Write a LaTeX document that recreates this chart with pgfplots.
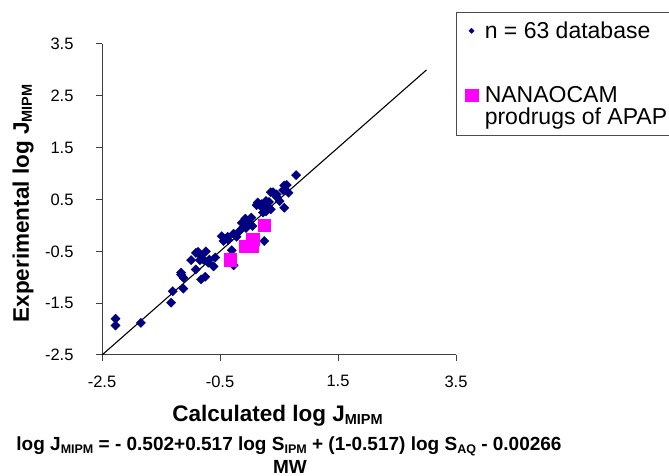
\documentclass[border=0pt]{standalone}
\usepackage{fontspec}
\setmainfont{Liberation Sans}
\usepackage{pgfplots}
\pgfplotsset{compat=1.18}
\definecolor{navyd}{RGB}{0,0,128}
\definecolor{pinkm}{RGB}{255,0,255}
\newcommand{\subA}[1]{\raisebox{-3pt}{\fontsize{14.5}{14.5}\selectfont #1}}
\newcommand{\subE}[1]{\raisebox{-2.5pt}{\fontsize{12.5}{12.5}\selectfont #1}}
\begin{document}
\begin{tikzpicture}[x=1pt,y=1pt]
\useasboundingbox (0,0) rectangle (669,476);
\begin{axis}[
  at={(102pt,121pt)}, anchor=south west,
  width=354pt, height=311pt, scale only axis,
  xmin=-2.5, xmax=3.5, ymin=-2.5, ymax=3.5,
  axis x line*=bottom, axis y line*=left,
  axis line style={-, black!75, line width=1pt},
  xtick={-2.5,-0.5,1.5,3.5},
  ytick={-2.5,-1.5,-0.5,0.5,1.5,2.5,3.5},
  xtick pos=bottom, ytick pos=left,
  xtick align=outside, ytick align=outside,
  major tick length=6pt,
  tick style={draw=black!75, line width=1pt},
  /pgf/number format/assume math mode=true,
  /pgf/number format/fixed,
  /pgf/number format/fixed zerofill,
  /pgf/number format/precision=1,
  ticklabel style={font=\fontsize{16.5}{16.5}\selectfont, text=black},
  yticklabel style={xshift=-19pt},
  xticklabel style={yshift=-11pt},
  legend style={at={(axis description cs:0.999,1.104)}, anchor=north west,
    draw=black!70, line width=0.8pt, inner xsep=7pt, inner ysep=8pt,
    row sep=0pt, column sep=5pt,
    font=\fontsize{23}{23}\selectfont,
    cells={anchor=west, text height=16pt, text depth=5pt, inner ysep=0pt, inner xsep=2pt}},
]
\addplot[black, line width=1.1pt, forget plot] coordinates {(-2.5,-2.5) (3.0,3.0)};
\addplot[only marks, mark=square*, mark size=3.3pt,
  mark options={rotate=45, fill=navyd, draw=navyd, line width=0.3pt},
  legend image post style={mark size=1.9pt}]
 coordinates {
(-2.27,-1.80)(-2.27,-1.93)(-1.84,-1.88)(-1.33,-1.49)(-1.30,-1.27)(-1.12,-1.22)
(-1.16,-0.91)(-1.12,-1.01)(-1.16,-0.95)(-0.99,-0.67)(-0.91,-0.85)(-0.91,-0.53)
(-0.82,-0.59)(-0.74,-0.50)(-0.82,-1.04)(-0.75,-0.99)(-0.78,-0.66)(-0.68,-0.66)
(-0.70,-0.72)(-0.61,-0.79)(-0.58,-0.62)(-0.87,-0.51)(-0.84,-0.67)(-0.47,-0.21)
(-0.44,-0.30)(-0.41,-0.26)(-0.37,-0.22)(-0.36,-0.28)(-0.27,-0.16)(-0.22,-0.22)
(-0.27,-0.77)(-0.30,-0.48)(-0.17,-0.11)(-0.13,0.05)(-0.07,0.13)(-0.06,-0.05)
(-0.10,-0.03)(-0.03,0.08)(0.03,0.15)(0.05,-0.01)(-0.02,0.04)(0.14,0.44)
(0.19,0.37)(0.20,0.41)(0.12,0.39)(0.28,0.47)(0.25,-0.30)(0.28,0.27)
(0.23,0.25)(0.36,0.31)(0.31,0.35)(0.33,0.45)(0.36,0.64)(0.40,0.64)
(0.46,0.60)(0.46,0.55)(0.51,0.47)(0.59,0.34)(0.59,0.77)(0.63,0.78)
(0.57,0.68)(0.66,0.63)(0.79,0.97)
};
\addlegendentry{n = 63 database}
\addlegendimage{empty legend}\addlegendentry{}
\addlegendimage{empty legend}\addlegendentry{}
\addplot[only marks, mark=square*, mark size=6.2pt,
  mark options={fill=pinkm, draw=pinkm, line width=0.2pt}]
 coordinates {(-0.33,-0.66)(-0.07,-0.40)(0.04,-0.40)(0.05,-0.26)(0.25,0.01)};
\addlegendentry{NANAOCAM}
\addlegendimage{empty legend}\addlegendentry{prodrugs of APAP}
\end{axis}
\node[anchor=base, font=\bfseries\fontsize{22.5}{22.5}\selectfont] at (277.5,54.3) {Calculated log J\subA{MIPM}};
\node[anchor=center, rotate=90, font=\bfseries\fontsize{22.5}{22.5}\selectfont] at (23,272.5) {Experimental log J\subA{MIPM}};
\node[anchor=base, font=\bfseries\fontsize{19}{19}\selectfont] at (289,25) {log J\subE{MIPM} = - 0.502+0.517 log S\subE{IPM} + (1-0.517) log S\subE{AQ} - 0.00266};
\node[anchor=base, font=\bfseries\fontsize{19}{19}\selectfont] at (290,2.5) {MW};
\end{tikzpicture}
\end{document}
